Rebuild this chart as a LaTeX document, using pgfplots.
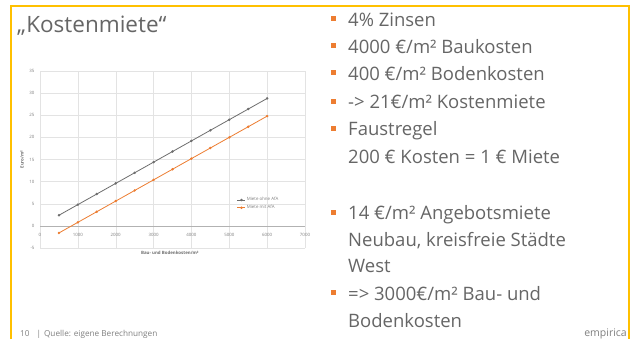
\documentclass[border=0pt]{standalone}
\usepackage{fontspec}
\setmainfont{Open Sans}
\usepackage{pgfplots}
\pgfplotsset{compat=1.18}
\definecolor{frame}{HTML}{FFC000}
\definecolor{txt}{HTML}{666666}
\definecolor{org}{HTML}{ED7D31}
\definecolor{gry}{HTML}{6E6E6E}
\definecolor{tick}{HTML}{808080}
\begin{document}
\begin{tikzpicture}[x=1pt,y=1pt]
\path[fill=white] (0,0) rectangle (634,339);
\draw[frame, line width=2pt] (11,0) -- (11,333) -- (629,333) -- (629,0);
\node[anchor=base west, text=txt, font=\fontsize{22.5}{26}\selectfont, inner sep=0] at (17,306) {„Kostenmiete“};
% right column
\begin{scope}[every node/.style={anchor=base west, text=txt, font=\fontsize{18.5}{22}\selectfont, inner sep=0}]
\node at (348,312.7) {4\% Zinsen};
\node at (348,285.5) {4000 €/m² Baukosten};
\node at (348,258.2) {400 €/m² Bodenkosten};
\node at (348,230) {-> 21€/m² Kostenmiete};
\node at (348,203) {Faustregel};
\node at (348,175.5) {200 € Kosten = 1 € Miete};
\node at (348,119) {14 €/m² Angebotsmiete};
\node at (348,92) {Neubau, kreisfreie Städte};
\node at (348,66) {West};
\node at (348,38.3) {=> 3000€/m² Bau- und};
\node at (348,12) {Bodenkosten};
\end{scope}
\foreach \b in {312.7,285.5,258.2,230,203,119,38.3}{
  \fill[org] (330.6,\b+5.4) rectangle ++(5,5);
}
% footer
\node[anchor=base west, text=tick, font=\fontsize{8.2}{10}\selectfont, inner sep=0] at (20,3) {10\hspace{7pt}|\hspace{3pt}Quelle: eigene Berechnungen};
\node[anchor=base east, text=tick, font=\fontsize{10.5}{12}\selectfont, inner sep=0] at (627,3) {empirica};
% chart
\begin{axis}[
  at={(40pt,91pt)}, anchor=south west,
  scale only axis, width=265pt, height=177pt,
  xmin=0, xmax=7000, ymin=-5, ymax=35,
  xtick={0,1000,...,7000}, ytick={-5,0,...,35},
  grid=major, grid style={draw=gray!22, line width=0.4pt},
  axis line style={draw=none},
  major tick length=0pt,
  /pgf/number format/assume math mode=true,
  /pgf/number format/set thousands separator={},
  tick label style={font=\fontsize{4.4}{5}\selectfont, text=tick},
  xticklabel style={yshift=17.8pt},
  yticklabel style={xshift=-2pt},
  xlabel={Bau- und Bodenkosten/m²},
  ylabel={Euro/m²},
  xlabel style={at={(axis description cs:0.49,-0.028)}, anchor=center, font=\fontsize{4.4}{5}\selectfont\bfseries, text=gry},
  ylabel style={at={(axis description cs:-0.068,0.5)}, anchor=center, font=\fontsize{4.4}{5}\selectfont\bfseries, text=gry},
  legend style={at={(axis description cs:0.743,0.249)}, anchor=west, draw=none, fill=none,
    font=\fontsize{4.4}{5}\selectfont, text=tick, row sep=1pt, inner sep=0pt,
    nodes={inner sep=1pt}},
  legend cell align=left,
  legend image code/.code={\draw[#1] (0pt,0pt) -- (8pt,0pt); \draw[#1, only marks] plot coordinates {(4pt,0pt)};},
]
\draw[gray!60, line width=0.5pt] (axis cs:0,0) -- (axis cs:7000,0);
\addplot[gry, line width=0.8pt, mark=*, mark size=0.8pt] coordinates {
(500,2.4)(1000,4.8)(1500,7.2)(2000,9.6)(2500,12)(3000,14.4)(3500,16.8)(4000,19.2)(4500,21.6)(5000,24)(5500,26.4)(6000,28.8)};
\addlegendentry{Miete ohne AfA}
\addplot[org, line width=0.8pt, mark=*, mark size=0.8pt] coordinates {
(500,-1.6)(1000,0.8)(1500,3.2)(2000,5.6)(2500,8)(3000,10.4)(3500,12.8)(4000,15.2)(4500,17.6)(5000,20)(5500,22.4)(6000,24.8)};
\addlegendentry{Miete mit AfA}
\end{axis}
\end{tikzpicture}
\end{document}
